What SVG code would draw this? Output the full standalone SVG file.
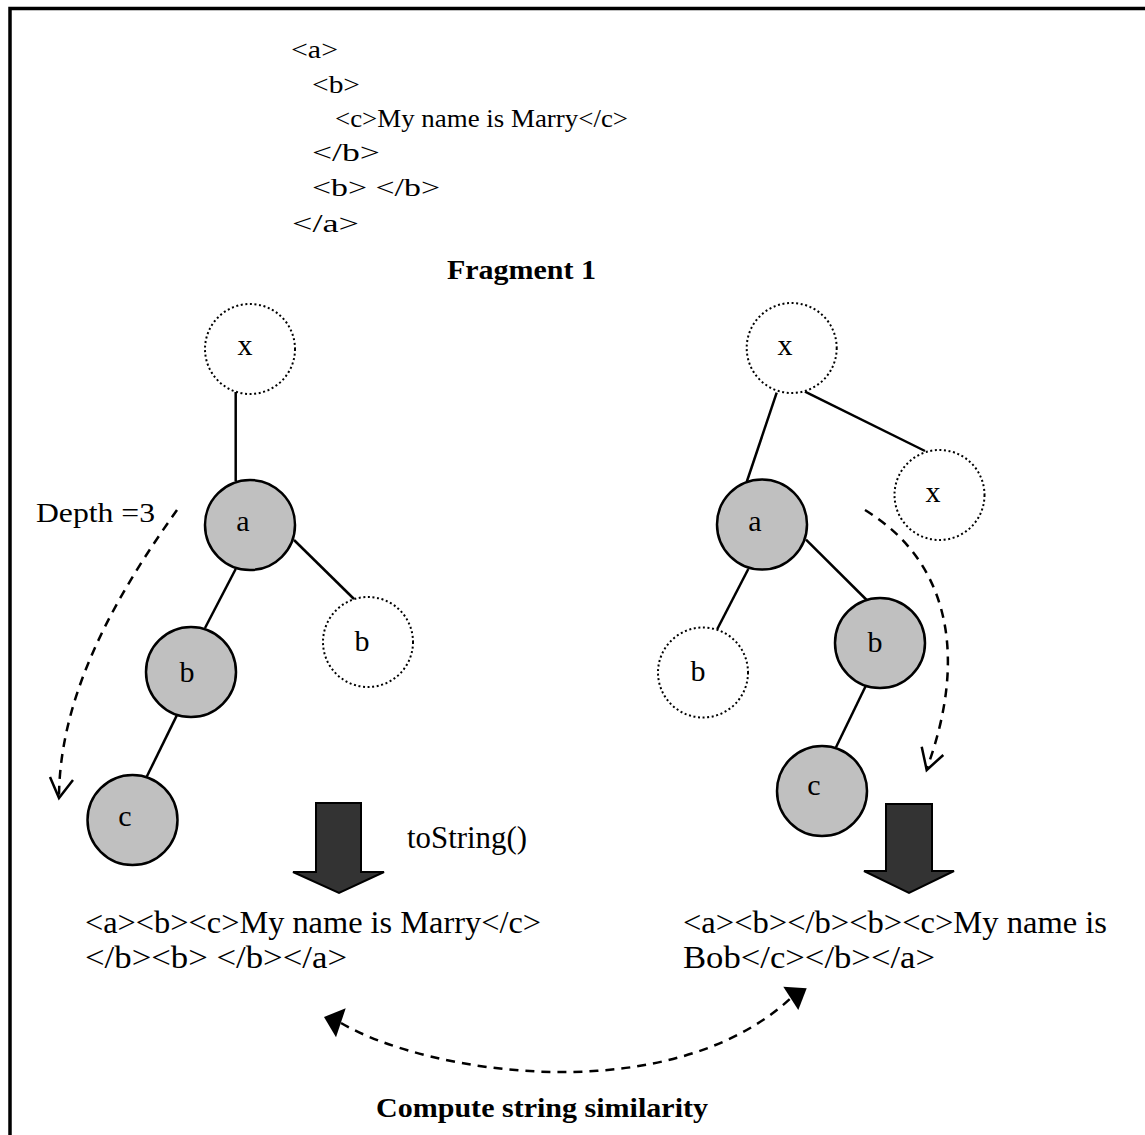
<svg xmlns="http://www.w3.org/2000/svg" width="1145" height="1135" viewBox="0 0 1145 1135">
<style>
.t{font-family:"Liberation Serif","Times New Roman",serif;fill:#000}
.code{font-size:26px}
.big{font-size:32px}
.lbl{font-size:30px;text-anchor:middle}
.bold{font-weight:bold;font-size:27px}
.full{fill:#c0c0c0;stroke:#000;stroke-width:2.5}
.dot{fill:none;stroke:#000;stroke-width:2;stroke-dasharray:2 2.6}
.edge{stroke:#000;stroke-width:2.5;fill:none}
.dash{stroke:#000;stroke-width:2.5;fill:none;stroke-dasharray:9 7}
.head{stroke:#000;stroke-width:2.5;fill:none}
.blk{fill:#333;stroke:#000;stroke-width:2}
</style>
<rect x="0" y="0" width="1145" height="1135" fill="#fff"/>
<rect x="10" y="8.5" width="1150" height="1140" fill="none" stroke="#000" stroke-width="3.5"/>

<g id="code">
<text class="t code" x="291" y="58" textLength="47" lengthAdjust="spacingAndGlyphs">&lt;a&gt;</text>
<text class="t code" x="312" y="93" textLength="48" lengthAdjust="spacingAndGlyphs">&lt;b&gt;</text>
<text class="t code" x="335" y="127" textLength="293" lengthAdjust="spacingAndGlyphs">&lt;c&gt;My name is Marry&lt;/c&gt;</text>
<text class="t code" x="312" y="161" textLength="68" lengthAdjust="spacingAndGlyphs">&lt;/b&gt;</text>
<text class="t code" x="312" y="196" textLength="128" lengthAdjust="spacingAndGlyphs">&lt;b&gt; &lt;/b&gt;</text>
<text class="t code" x="292" y="232" textLength="67" lengthAdjust="spacingAndGlyphs">&lt;/a&gt;</text>
<text class="t bold" x="447" y="279" textLength="149" lengthAdjust="spacingAndGlyphs">Fragment 1</text>
</g>

<g id="connectors">
<line class="edge" x1="235.7" y1="392" x2="235.7" y2="481"/>
<line class="edge" x1="294" y1="540" x2="354" y2="599"/>
<line class="edge" x1="235.7" y1="569" x2="205" y2="628"/>
<line class="edge" x1="176.7" y1="715.6" x2="146.7" y2="776.8"/>
<line class="edge" x1="776.7" y1="392.6" x2="746.7" y2="482"/>
<line class="edge" x1="805" y1="391.6" x2="925" y2="451"/>
<line class="edge" x1="748.3" y1="569" x2="717.3" y2="629"/>
<line class="edge" x1="806" y1="539.7" x2="866.7" y2="600"/>
<line class="edge" x1="865.7" y1="686" x2="836" y2="747.3"/>
<path class="dash" d="M177,510 C120,590 60,690 59,796"/>
<polyline class="head" points="50,777 59,798 73,780"/>
<path class="dash" d="M865,510 C955,565 965,665 927,768"/>
<polyline class="head" points="921.7,746.7 926.7,770 943.3,755"/>
<path class="dash" d="M341,1023 C430,1075 670,1110 791,998"/>
<polygon points="324,1017 345.7,1008.3 336,1037.3" fill="#000"/>
<polygon points="806.7,988.3 783.3,986.7 798.3,1010" fill="#000"/>
<polygon class="blk" points="316,803 361,803 361,872 384,872 339,893 293,872 316,872"/>
<polygon class="blk" points="886,804 932,804 932,871 954,871 909,893 864,871 886,871"/>
</g>

<g id="L_x"><circle class="dot" cx="250" cy="349" r="45"/><text class="t lbl" x="245" y="355">x</text></g>
<g id="L_a"><circle class="full" cx="250" cy="525" r="45"/><text class="t lbl" x="243" y="531">a</text></g>
<g id="L_b2"><circle class="dot" cx="368" cy="642" r="45"/><text class="t lbl" x="362" y="651">b</text></g>
<g id="L_b"><circle class="full" cx="191" cy="672" r="45"/><text class="t lbl" x="187" y="682">b</text></g>
<g id="L_c"><circle class="full" cx="132.5" cy="820" r="45"/><text class="t lbl" x="125" y="826">c</text></g>

<g id="R_x"><circle class="dot" cx="791.7" cy="348" r="45"/><text class="t lbl" x="785" y="355">x</text></g>
<g id="R_x2"><circle class="dot" cx="939.5" cy="495" r="45"/><text class="t lbl" x="933" y="502">x</text></g>
<g id="R_a"><circle class="full" cx="762" cy="524.5" r="45"/><text class="t lbl" x="755" y="531">a</text></g>
<g id="R_b2"><circle class="dot" cx="703" cy="672.5" r="45"/><text class="t lbl" x="698" y="681">b</text></g>
<g id="R_b"><circle class="full" cx="880" cy="643" r="45"/><text class="t lbl" x="875" y="652">b</text></g>
<g id="R_c"><circle class="full" cx="822" cy="791" r="45"/><text class="t lbl" x="814" y="795">c</text></g>

<g id="labels">
<text class="t" style="font-size:27px" x="36" y="521.5" textLength="119" lengthAdjust="spacingAndGlyphs">Depth =3</text>
<text class="t big" x="407" y="848" textLength="120" lengthAdjust="spacingAndGlyphs">toString()</text>
<text class="t big" x="85" y="933" textLength="456" lengthAdjust="spacingAndGlyphs">&lt;a&gt;&lt;b&gt;&lt;c&gt;My name is Marry&lt;/c&gt;</text>
<text class="t big" x="85" y="968" textLength="262" lengthAdjust="spacingAndGlyphs">&lt;/b&gt;&lt;b&gt; &lt;/b&gt;&lt;/a&gt;</text>
<text class="t big" x="683" y="933" textLength="424" lengthAdjust="spacingAndGlyphs">&lt;a&gt;&lt;b&gt;&lt;/b&gt;&lt;b&gt;&lt;c&gt;My name is</text>
<text class="t big" x="683" y="968" textLength="252" lengthAdjust="spacingAndGlyphs">Bob&lt;/c&gt;&lt;/b&gt;&lt;/a&gt;</text>
<text class="t bold" x="376" y="1117" textLength="332" lengthAdjust="spacingAndGlyphs">Compute string similarity</text>
</g>
</svg>
